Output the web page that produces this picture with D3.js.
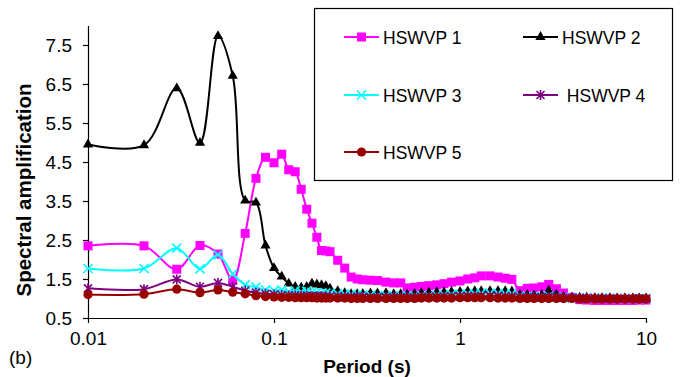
<!DOCTYPE html>
<html lang="en">
<head>
    <meta charset="UTF-8">
    <title>Spectral amplification (b)</title>
    <script src="https://d3js.org/d3.v7.min.js"></script>
    <style>
        body { margin: 0; background: #fff; }
        svg { display: block; font-family: "Liberation Sans", Arial, sans-serif; }
        .tick text { font-size: 19px; fill: #000; }
        .axis-title { font-weight: bold; }
        .legend-text { font-size: 17.5px; white-space: pre; }
    </style>
</head>
<body>
<div id="chart"></div>
<script>
// periods (s) the values were read at
const periods = [0.01, 0.02, 0.03, 0.04, 0.05, 0.06, 0.07, 0.08, 0.09, 0.1,
    0.11, 0.12, 0.13, 0.14, 0.15, 0.16, 0.17, 0.18, 0.19, 0.2,
    0.22, 0.24, 0.26, 0.28, 0.3, 0.33, 0.36, 0.4, 0.44, 0.48,
    0.52, 0.57, 0.62, 0.68, 0.75, 0.82, 0.9, 1.0, 1.1, 1.2,
    1.3, 1.45, 1.6, 1.75, 1.9, 2.1, 2.3, 2.5, 2.75, 3.0,
    3.3, 3.6, 4.0, 4.4, 4.8, 5.3, 5.8, 6.4, 7.0, 7.7,
    8.5, 9.2, 10];

const hswvp1 = [2.35, 2.35, 1.75, 2.36, 2.14, 1.47, 2.67, 4.08, 4.62, 4.48,
    4.70, 4.30, 4.25, 3.80, 3.29, 2.93, 2.57, 2.23, 2.22, 2.20,
    1.98, 1.78, 1.55, 1.50, 1.48, 1.47, 1.46, 1.42, 1.40, 1.40,
    1.27, 1.29, 1.31, 1.33, 1.35, 1.38, 1.42, 1.45, 1.50, 1.53,
    1.58, 1.58, 1.55, 1.52, 1.49, 1.20, 1.26, 1.27, 1.30, 1.36,
    1.25, 1.14, 1.03, 0.97, 0.96, 0.95, 0.95, 0.95, 0.95, 0.95,
    0.95, 0.96, 0.96];

const hswvp2 = [4.95, 4.93, 6.39, 4.99, 7.73, 6.71, 3.51, 3.46, 2.36, 1.78,
    1.56, 1.38, 1.30, 1.28, 1.30, 1.38, 1.36, 1.34, 1.32, 1.25,
    1.19, 1.14, 1.11, 1.11, 1.12, 1.13, 1.13, 1.14, 1.11, 1.11,
    1.10, 1.12, 1.14, 1.15, 1.16, 1.16, 1.17, 1.17, 1.18, 1.19,
    1.19, 1.19, 1.19, 1.19, 1.18, 1.09, 1.09, 1.08, 1.09, 1.20,
    1.10, 1.04, 1.03, 1.02, 1.02, 1.01, 1.01, 1.01, 1.00, 1.00,
    1.00, 1.00, 1.00];

const hswvp3 = [1.77, 1.77, 2.29, 1.76, 2.12, 1.63, 1.35, 1.29, 1.22, 1.20,
    1.22, 1.18, 1.20, 1.17, 1.19, 1.16, 1.15, 1.14, 1.14, 1.13,
    1.12, 1.11, 1.10, 1.09, 1.08, 1.08, 1.07, 1.07, 1.06, 1.06,
    1.06, 1.06, 1.07, 1.07, 1.08, 1.09, 1.10, 1.11, 1.12, 1.12,
    1.13, 1.13, 1.13, 1.12, 1.12, 1.06, 1.05, 1.05, 1.05, 1.06,
    1.04, 1.03, 1.02, 1.02, 1.01, 1.01, 1.01, 1.01, 1.00, 1.00,
    1.00, 1.00, 1.00];

const hswvp4 = [1.26, 1.24, 1.49, 1.30, 1.40, 1.30, 1.20, 1.15, 1.12, 1.10,
    1.09, 1.08, 1.08, 1.07, 1.07, 1.06, 1.06, 1.06, 1.05, 1.05,
    1.05, 1.04, 1.04, 1.04, 1.04, 1.03, 1.03, 1.03, 1.03, 1.03,
    1.03, 1.03, 1.04, 1.04, 1.04, 1.05, 1.05, 1.05, 1.06, 1.06,
    1.06, 1.06, 1.06, 1.05, 1.05, 1.03, 1.03, 1.03, 1.03, 1.04,
    1.03, 1.02, 1.01, 1.01, 1.01, 1.01, 1.00, 1.00, 1.00, 1.00,
    1.00, 1.00, 1.00];

const hswvp5 = [1.10, 1.11, 1.24, 1.15, 1.22, 1.16, 1.12, 1.07, 1.05, 1.04,
    1.03, 1.03, 1.02, 1.02, 1.02, 1.02, 1.01, 1.01, 1.01, 1.01,
    1.01, 1.01, 1.00, 1.00, 1.00, 1.00, 1.00, 1.00, 1.00, 1.00,
    1.00, 1.00, 1.01, 1.01, 1.01, 1.01, 1.01, 1.02, 1.02, 1.02,
    1.02, 1.02, 1.01, 1.01, 1.01, 1.00, 1.00, 1.00, 1.00, 1.00,
    1.00, 1.00, 1.00, 0.99, 0.99, 0.99, 0.99, 0.99, 0.99, 0.99,
    0.99, 0.99, 0.99];

const seriesNames = ["HSWVP 1", "HSWVP 2", "HSWVP 3", " HSWVP 4", "HSWVP 5"];
const seriesValues = [hswvp1, hswvp2, hswvp3, hswvp4, hswvp5];
const seriesColors = ["#ff00ff", "#000000", "#00ffff", "#800080", "#990000"];
const seriesMarkers = ["square", "triangle", "cross", "star", "circle"];

const xTicks = [0.01, 0.1, 1, 10];
const yTicks = [0.5, 1.5, 2.5, 3.5, 4.5, 5.5, 6.5, 7.5];

const width = 680, height = 377;
const svg = d3.select("#chart").append("svg")
    .attr("width", width)
    .attr("height", height);

const x = d3.scaleLog().domain([0.01, 10]).range([88, 646]);
const y = d3.scaleLinear().domain([0.5, 8]).range([318, 25.5]);

// axes
svg.append("g")
    .attr("transform", "translate(88,0)")
    .call(d3.axisLeft(y).tickValues(yTicks).tickSize(5).tickSizeOuter(0)
        .tickPadding(11).tickFormat(d3.format(".1f")));

svg.append("g")
    .attr("transform", "translate(0,318)")
    .call(d3.axisBottom(x).tickValues(xTicks).tickSize(5).tickSizeOuter(0)
        .tickPadding(9).tickFormat(d => String(d)));

svg.selectAll(".domain, .tick line").attr("stroke", "#000").attr("stroke-width", 1.2);

svg.append("text")
    .attr("class", "axis-title")
    .attr("transform", "translate(31,190) rotate(-90)")
    .attr("text-anchor", "middle")
    .style("font-size", "20.5px")
    .text("Spectral amplification");

svg.append("text")
    .attr("class", "axis-title")
    .attr("x", 367)
    .attr("y", 373)
    .attr("text-anchor", "middle")
    .style("font-size", "19px")
    .text("Period (s)");

svg.append("text")
    .attr("x", 9)
    .attr("y", 364)
    .style("font-size", "19px")
    .text("(b)");

// marker drawing
function drawMarker(g, type, color) {
    if (type === "square") {
        g.append("rect").attr("x", -4.5).attr("y", -4.5).attr("width", 9).attr("height", 9)
            .attr("fill", color);
    } else if (type === "triangle") {
        g.append("path").attr("d", d3.symbol().type(d3.symbolTriangle).size(45)())
            .attr("fill", color);
    } else if (type === "circle") {
        g.append("circle").attr("r", 4.6).attr("fill", color);
    } else if (type === "cross") {
        g.append("path").attr("d", "M-4.5,-4.5L4.5,4.5M-4.5,4.5L4.5,-4.5")
            .attr("stroke", color).attr("stroke-width", 1.6).attr("fill", "none");
    } else if (type === "star") {
        g.append("path").attr("d", "M-4,-4L4,4M-4,4L4,-4M0,-5L0,5")
            .attr("stroke", color).attr("stroke-width", 1.6).attr("fill", "none");
    }
}

const line = d3.line()
    .x(d => x(d[0]))
    .y(d => y(d[1]))
    .curve(d3.curveCatmullRom.alpha(0.5));

seriesValues.forEach((vals, i) => {
    const pts = periods.map((p, j) => [p, vals[j]]);
    const g = svg.append("g");
    g.append("path")
        .datum(pts)
        .attr("d", line)
        .attr("fill", "none")
        .attr("stroke", seriesColors[i])
        .attr("stroke-width", 2);
    g.selectAll("g.mk")
        .data(pts)
        .enter().append("g")
        .attr("class", "mk")
        .attr("transform", d => `translate(${x(d[0])},${y(d[1])})`)
        .each(function() { drawMarker(d3.select(this), seriesMarkers[i], seriesColors[i]); });
});

// legend
const legend = svg.append("g");
legend.append("rect")
    .attr("x", 314.5).attr("y", 8.5)
    .attr("width", 358).attr("height", 172)
    .attr("fill", "#fff")
    .attr("stroke", "#000")
    .attr("stroke-width", 1.2);

const legendPos = [[344, 37], [523, 37], [344, 95], [523, 95], [344, 152]];
seriesNames.forEach((name, i) => {
    const [lx, ly] = legendPos[i];
    const item = legend.append("g").attr("transform", `translate(${lx},${ly})`);
    item.append("line").attr("x1", 0).attr("x2", 35).attr("y1", 0).attr("y2", 0)
        .attr("stroke", seriesColors[i]).attr("stroke-width", 2);
    const m = item.append("g").attr("transform", "translate(17.5,0)");
    drawMarker(m, seriesMarkers[i], seriesColors[i]);
    item.append("text")
        .attr("class", "legend-text")
        .attr("x", 39)
        .attr("y", 6.5)
        .text(name);
});
</script>
</body>
</html>
